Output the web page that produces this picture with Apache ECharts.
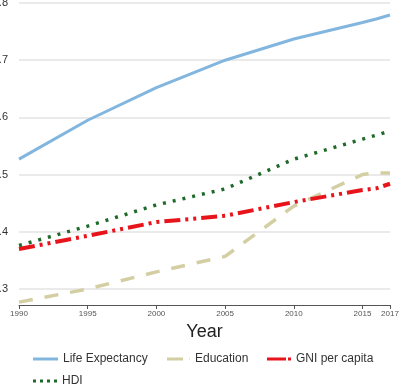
<!DOCTYPE html>
<html><head><meta charset="utf-8">
<script src="https://cdn.jsdelivr.net/npm/echarts@6/dist/echarts.min.js"></script>
<style>html,body{margin:0;padding:0;background:#fff}#c{width:400px;height:386px}</style>
</head><body><div id="c"></div>
<script>
var years = [1990, 1995, 2000, 2005, 2010, 2015, 2016, 2017];
var lifeExpectancy = [0.527, 0.595, 0.652, 0.700, 0.737, 0.766, 0.772, 0.779];
var education = [0.277, 0.300, 0.330, 0.357, 0.445, 0.500, 0.503, 0.503];
var gniPerCapita = [0.370, 0.393, 0.417, 0.428, 0.452, 0.473, 0.476, 0.484];
var hdi = [0.376, 0.410, 0.447, 0.475, 0.527, 0.562, 0.569, 0.576];
var xTicks = [1990, 1995, 2000, 2005, 2010, 2015, 2017];
var seriesNames = ['Life Expectancy', 'Education', 'GNI per capita', 'HDI'];

function pairs(v){ return years.map(function(y,i){ return [y, v[i]]; }); }
var font = '"Liberation Sans", Arial, sans-serif';
var C = {life:'#82b6de', edu:'#d3cfa3', gni:'#e8141c', hdi:'#1f6a2a'};
function leg(name, left, top, w, icon, color){
  return {data:[{name:name, icon:icon, itemStyle:{color:color}}], left:left, top:top,
    itemWidth:w, itemHeight:3, itemGap:0, padding:0, selectedMode:false,
    textStyle:{fontSize:12, color:'#333', fontFamily:font, lineHeight:14}};
}
var chart = echarts.init(document.getElementById('c'), null, {renderer:'canvas'});
chart.setOption({
  animation:false,
  grid:{left:19, right:10, top:3, bottom:97, containLabel:false, outerBoundsMode:'none'},
  xAxis:{
    type:'value', min:1990, max:2017, offset:16,
    name:'Year', nameLocation:'middle', nameGap:14,
    nameTextStyle:{fontSize:18, color:'#222', fontFamily:font},
    axisLine:{show:true, lineStyle:{color:'#555', width:1}},
    axisTick:{show:true, length:4, inside:false, customValues:xTicks, lineStyle:{color:'#555'}},
    axisLabel:{customValues:xTicks, fontSize:8, color:'#555', margin:5, fontFamily:font,
      formatter:function(v){ return String(v); }},
    splitLine:{show:false}
  },
  yAxis:{
    type:'value', min:0.3, max:0.8, interval:0.1,
    axisLine:{show:false}, axisTick:{show:false},
    axisLabel:{fontSize:11, color:'#333', margin:11, fontFamily:font,
      formatter:function(v){ return v.toFixed(1); }},
    splitLine:{show:true, lineStyle:{color:'#e3e3e3', width:1.5}}
  },
  legend:[
    leg(seriesNames[0], 33, 352, 25, 'path://M0,0H25V3H0Z', C.life),
    leg(seriesNames[1], 167, 352, 23, 'path://M0,0H16V3H0ZM22,1H23V2H22Z', C.edu),
    leg(seriesNames[2], 267, 352, 24, 'path://M0,0H19V3H0ZM21,0H24V3H21Z', C.gni),
    leg(seriesNames[3], 33, 374, 24, 'path://M0,0H3V3H0ZM7,0H10V3H7ZM14,0H17V3H14ZM21,0H24V3H21Z', C.hdi)
  ],
  series:[
    {name:seriesNames[0], type:'line', data:pairs(lifeExpectancy), showSymbol:false, symbol:'none', clip:false,
     lineStyle:{color:C.life, width:3}, itemStyle:{color:C.life}},
    {name:seriesNames[1], type:'line', data:pairs(education), showSymbol:false, symbol:'none', clip:false,
     lineStyle:{color:C.edu, width:3.5, type:[14,12]}, itemStyle:{color:C.edu}},
    {name:seriesNames[2], type:'line', data:pairs(gniPerCapita), showSymbol:false, symbol:'none', clip:false,
     lineStyle:{color:C.gni, width:4, type:[16,5,3,5,3,5]}, itemStyle:{color:C.gni}},
    {name:seriesNames[3], type:'line', data:pairs(hdi), showSymbol:false, symbol:'none', clip:false,
     lineStyle:{color:C.hdi, width:3.5, type:[3,7]}, itemStyle:{color:C.hdi}}
  ]
});
</script></body></html>
